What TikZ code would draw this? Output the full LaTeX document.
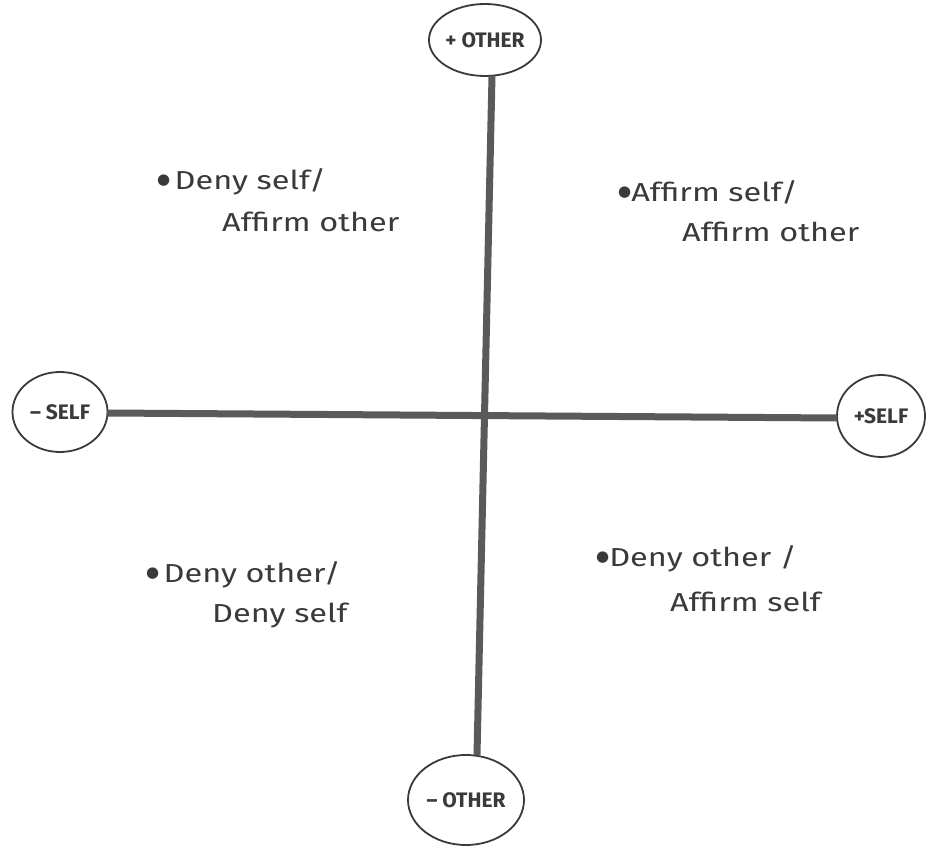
\documentclass[tikz,border=0pt]{standalone}
\usepackage{fontspec}
\setmainfont{Fira Sans}
\newfontfamily\quadfont[FakeStretch=1.25]{Fira Sans}
\newfontfamily\symfont{DejaVu Sans}
\usetikzlibrary{shapes.geometric}
\definecolor{ink}{HTML}{3A3A3A}
\definecolor{axis}{HTML}{5A5A5A}
\newcommand{\qbul}{\raisebox{5pt}{\symfont\fontsize{15}{15}\selectfont ●}}
\tikzset{
  pole/.style={ellipse, draw=ink, line width=1.8pt, inner sep=0pt, font=\fontsize{21}{22}\selectfont\bfseries, text=ink},
  axisline/.style={draw=axis, line width=7pt},
  quad/.style={anchor=base west, inner sep=0pt, font=\quadfont\fontsize{26}{28}\selectfont, text=ink},
}
\begin{document}
\begin{tikzpicture}[x=1pt, y=-1pt]
\useasboundingbox (0,0) rectangle (930,866);
\fill[white] (0,0) rectangle (930,866);
% poles
\node[pole, minimum width=96pt, minimum height=72pt] (top) at (485,40) {+ OTHER};
\node[pole, minimum width=116pt, minimum height=90pt] (bot) at (466,800) {-- OTHER};
\node[pole, minimum width=95pt, minimum height=80pt] (left) at (60,412) {-- SELF};
\node[pole, minimum width=88pt, minimum height=82pt] (right) at (881,416) {+SELF};
% axes
\draw[axisline] ([xshift=7pt,yshift=1pt]top.south) -- ([xshift=11pt,yshift=-1pt]bot.north);
\draw[axisline] ([xshift=-1pt,yshift=-1pt]left.east) -- ([xshift=1pt,yshift=-2pt]right.west);
% quadrant texts
\node[quad] (q1a) at (157,190) {\qbul\,Deny self/};
\node[quad] (q1b) at (222,232) {Affirm other};
\node[quad] (q2a) at (618,202) {\qbul Affirm self/};
\node[quad] (q2b) at (682,242) {Affirm other};
\node[quad] (q3a) at (146,583) {\qbul\,Deny other/};
\node[quad] (q3b) at (212,623) {Deny self};
\node[quad] (q4a) at (596,567) {\qbul Deny other /};
\node[quad] (q4b) at (670,612) {Affirm self};
\end{tikzpicture}
\end{document}
